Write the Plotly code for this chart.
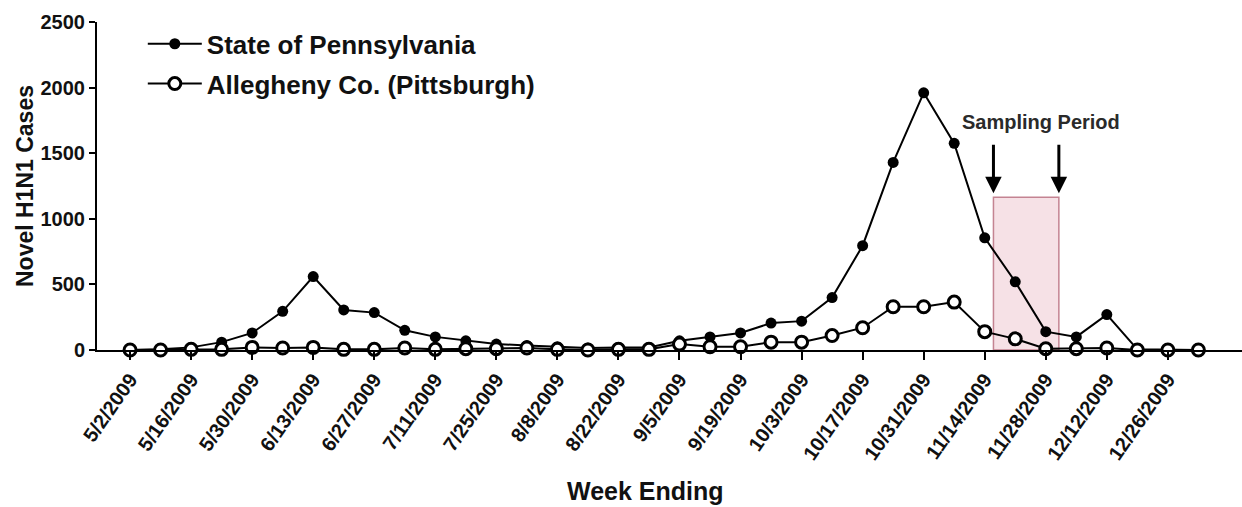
import datetime as dt
import plotly.graph_objects as go

# Weekly reporting dates (week ending), 5/2/2009 through 1/2/2010
start = dt.date(2009, 5, 2)
weeks = [start + dt.timedelta(days=7 * i) for i in range(36)]
tick_dates = weeks[0:35:2]  # labelled every second week, 5/2 .. 12/26

# Novel H1N1 case counts per week
pennsylvania = [0, 5, 20, 60, 130, 295, 560, 305, 285, 150,
                100, 70, 45, 35, 25, 15, 20, 20, 70, 100,
                130, 205, 220, 400, 795, 1430, 1960, 1575, 855, 520,
                140, 100, 270, 5, 0, 0]
allegheny = [0, 0, 5, 5, 20, 15, 20, 5, 5, 15,
             5, 10, 10, 15, 5, 0, 5, 5, 45, 25,
             25, 60, 60, 110, 170, 330, 330, 365, 140, 85,
             10, 10, 15, 0, 0, 0]

sampling_start = dt.date(2009, 11, 16)
sampling_end = dt.date(2009, 12, 1)

FONT = "Liberation Sans, Arial, sans-serif"
INK = "#111111"

fig = go.Figure()
fig.add_trace(go.Scatter(
    x=weeks, y=pennsylvania, name="State of Pennsylvania",
    legendgroup="pa", mode="lines+markers", cliponaxis=False,
    line=dict(color="black", width=2),
    marker=dict(symbol="circle", size=11, color="black"),
))
fig.add_trace(go.Scatter(
    x=weeks, y=allegheny, name="Allegheny Co. (Pittsburgh)",
    legendgroup="ac", mode="lines+markers", cliponaxis=False,
    line=dict(color="black", width=2),
    marker=dict(symbol="circle", size=12, color="white",
                line=dict(color="black", width=3)),
))

# Sampling window
fig.add_shape(type="rect", xref="x", yref="y",
              x0=sampling_start, x1=sampling_end, y0=0, y1=1165,
              fillcolor="rgba(228,170,182,0.35)",
              line=dict(color="rgba(190,120,135,0.9)", width=1.5),
              layer="below")
for d in (sampling_start, sampling_end):
    fig.add_annotation(x=d, y=1195, xref="x", yref="y", text="",
                       showarrow=True, arrowhead=2, arrowsize=1.1,
                       arrowwidth=3, arrowcolor="black", ax=0, ay=-50)
fig.add_annotation(x=dt.date(2009, 11, 27), y=1740, xref="x", yref="y",
                   text="Sampling Period", showarrow=False,
                   font=dict(family=FONT, size=20, color="#2a2a2a", weight="bold"))

# x-axis title
fig.add_annotation(x=0.479, xref="paper", y=-0.48, yref="paper",
                   text="Week Ending", showarrow=False,
                   font=dict(family=FONT, size=25, color=INK, weight="bold"))

fig.update_layout(
    width=1242, height=507,
    margin=dict(l=97, r=0, t=22, b=157),
    paper_bgcolor="white", plot_bgcolor="white",
    font=dict(family=FONT, color=INK),
    legend=dict(x=0.04, y=1.005, xanchor="left", yanchor="top",
                bgcolor="rgba(0,0,0,0)", tracegroupgap=3, itemwidth=54,
                font=dict(family=FONT, size=26, color=INK, weight="bold")),
    xaxis=dict(
        type="date",
        range=[dt.datetime(2009, 4, 24, 10), dt.datetime(2010, 1, 12)],
        tickvals=tick_dates, tickformat="%-m/%-d/%Y",
        tickangle=-55, ticks="outside", ticklen=8, tickwidth=2, tickcolor="black",
        showline=True, linecolor="black", linewidth=2,
        showgrid=False, zeroline=False,
        tickfont=dict(family=FONT, size=20, color=INK, weight="bold"),
    ),
    yaxis=dict(
        range=[0, 2500], tickvals=[0, 500, 1000, 1500, 2000, 2500],
        ticks="outside", ticklen=6, tickwidth=2, tickcolor="black",
        showline=True, linecolor="black", linewidth=2,
        showgrid=False, zeroline=False,
        title=dict(text="Novel H1N1 Cases", standoff=0,
                   font=dict(family=FONT, size=23, color=INK, weight="bold")),
        tickfont=dict(family=FONT, size=20, color=INK, weight="bold"),
    ),
)

fig.write_html("out.html")
